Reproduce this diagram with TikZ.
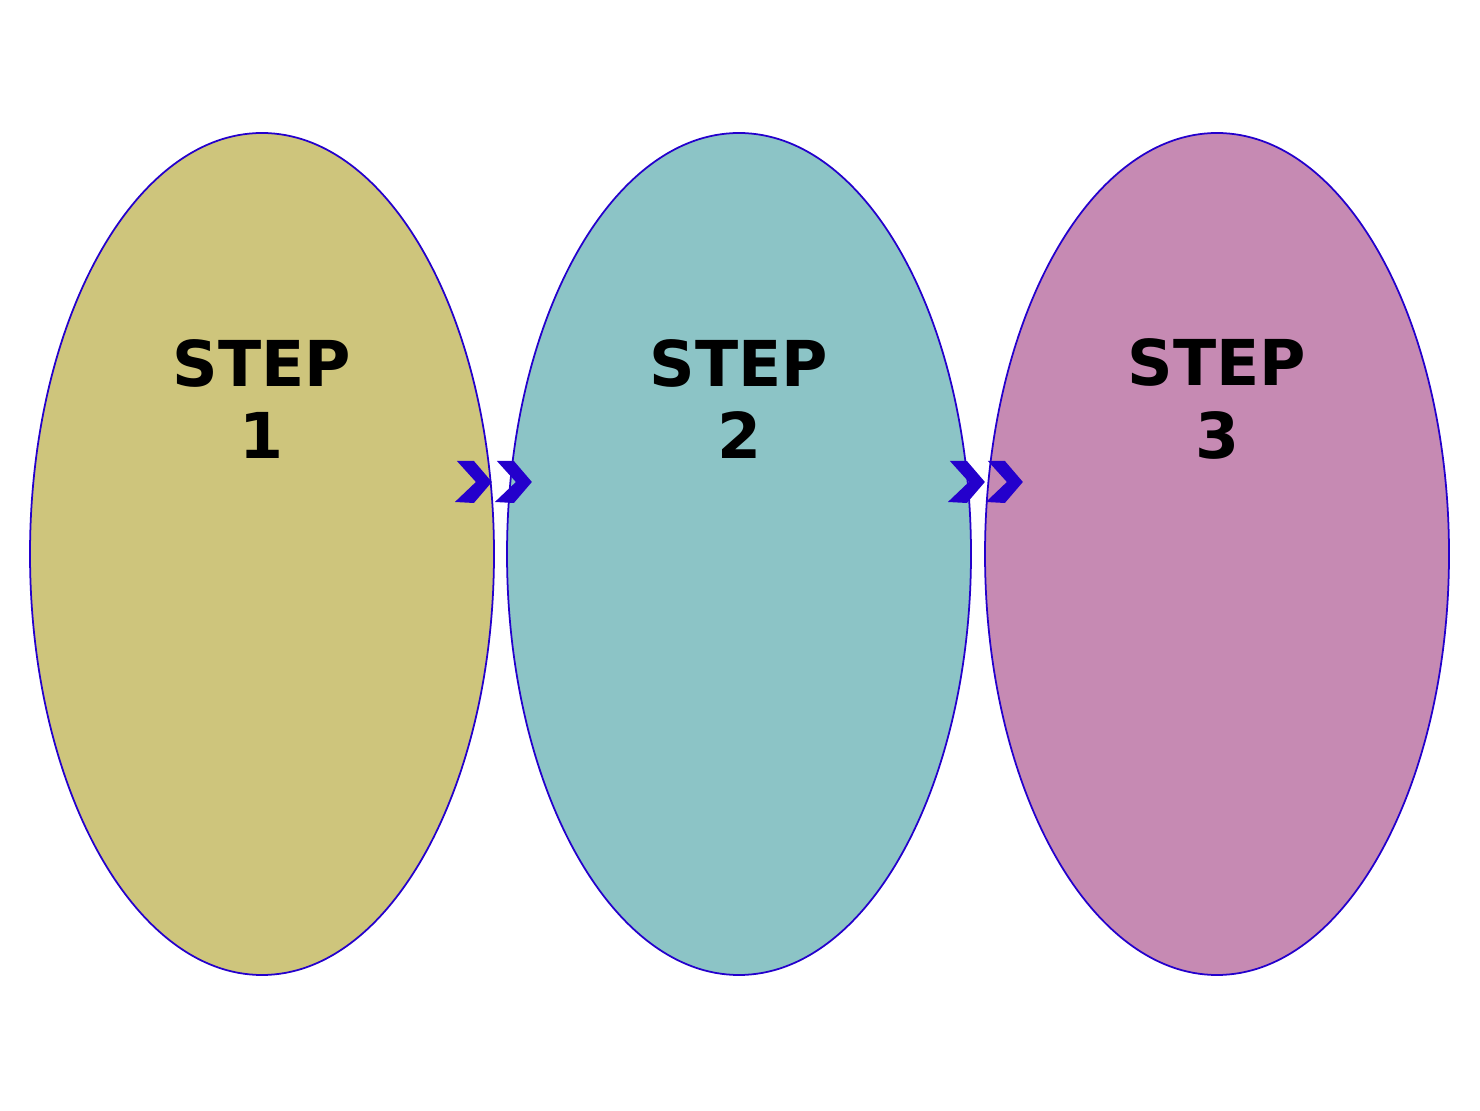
\documentclass[tikz,border=0pt]{standalone}
\usepackage{fontspec}
\setmainfont{DejaVu Sans}
\usetikzlibrary{shapes.geometric}

\definecolor{stepA}{HTML}{CEC57C}
\definecolor{stepB}{HTML}{8CC4C6}
\definecolor{stepC}{HTML}{C68AB3}
\definecolor{rim}{HTML}{2400CC}

\begin{document}
\begin{tikzpicture}[
    stepbox/.style={ellipse, draw=rim, line width=1pt, inner sep=0pt,
      minimum width=9.28cm, minimum height=16.84cm},
    steptext/.style={align=center, font=\fontsize{36}{41}\selectfont\bfseries},
    chevron/.pic={\fill[rim] (-0.7,0.42) -- (-0.36,0.42) -- (0,0)
      -- (-0.36,-0.42) -- (-0.74,-0.40) -- (-0.32,0) -- cycle;}
  ]
    \useasboundingbox (0,0) rectangle (29.6,22.2);
    \node[stepbox, fill=stepA] (s1) at (5.24,11.12) {};
    \node[stepbox, fill=stepB] (s2) at (14.78,11.12) {};
    \node[stepbox, fill=stepC] (s3) at (24.34,11.12) {};
    \node[steptext] (l1) at ([yshift=3.1cm]s1.center) {STEP\\1};
    \node[steptext] (l2) at ([yshift=3.1cm]s2.center) {STEP\\2};
    \node[steptext] (l3) at ([yshift=3.1cm]s3.center) {STEP\\3};
    % double chevrons between the steps
    \coordinate (c1) at ([yshift=1.44cm]s1.east);
    \coordinate (c2) at ([yshift=1.44cm]s2.east);
    \pic at ([xshift=-0.06cm]c1) {chevron};
    \pic at ([xshift=0.74cm]c1) {chevron};
    \pic at ([xshift=0.26cm]c2) {chevron};
    \pic at ([xshift=1.02cm]c2) {chevron};
  \end{tikzpicture}
\end{document}
